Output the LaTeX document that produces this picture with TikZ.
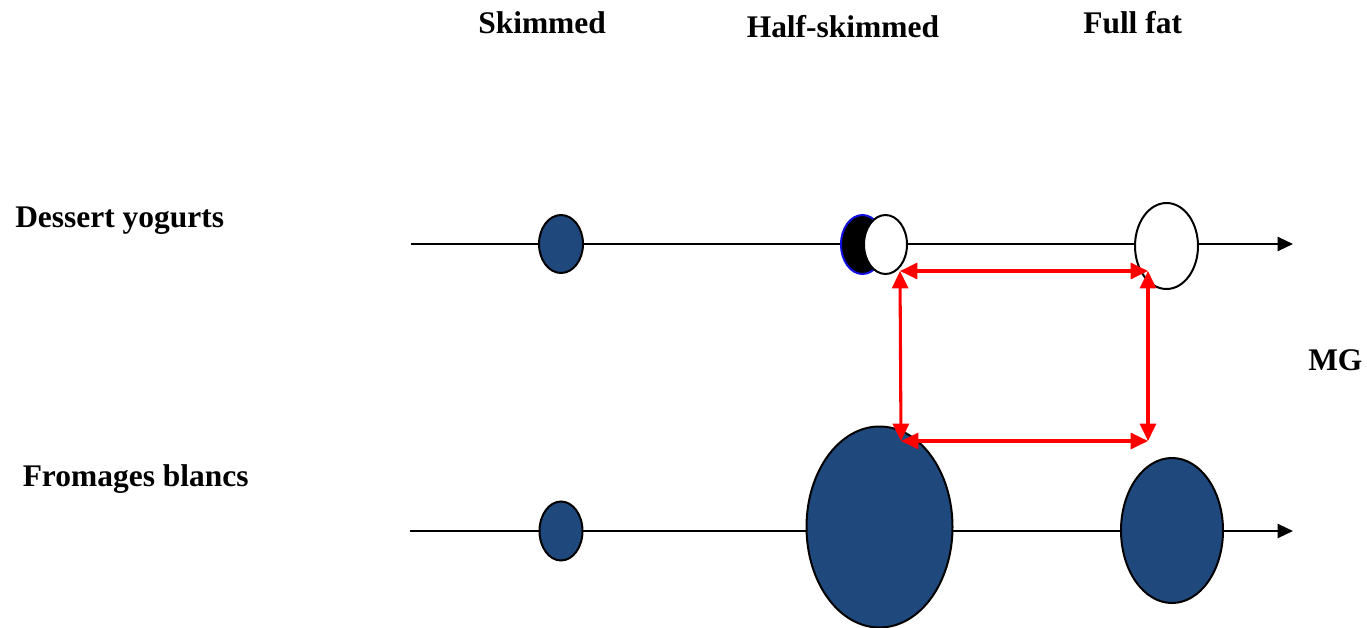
\documentclass[tikz,border=0pt]{standalone}
\usepackage{fontspec}
\setmainfont{Liberation Serif}
\usetikzlibrary{arrows.meta,shapes.geometric}
\definecolor{fatblue}{HTML}{1F497D}
\definecolor{rimblue}{HTML}{1010E0}
\tikzset{
  lbl/.style={anchor=base west,inner sep=0pt,font=\fontsize{23.6}{28}\selectfont\bfseries},
  axis/.style={line width=1.7pt,-{Triangle[length=11.5pt,width=10.5pt]}},
  blob/.style n args={2}{ellipse,inner sep=0pt,minimum width=#1*0.75pt,minimum height=#2*0.75pt,line width=1.5pt},
  dot/.style={draw=black,fill=fatblue},
  hollow/.style={draw=black,fill=white},
  gap/.style={draw=red,line width=2.3pt,{Triangle[length=13pt,width=12pt]}-{Triangle[length=13pt,width=12pt]}}
}
\begin{document}
\begin{tikzpicture}[x=0.75pt,y=-0.75pt]
\useasboundingbox (0,0) rectangle (1367,628);

% column headings
\node[lbl] (hs) at (478,33.3) {Skimmed};
\node[lbl] (hh) at (746.5,37) {Half-skimmed};
\node[lbl] (hf) at (1083,33.5) {Full fat};

% row headings and axis label
\node[lbl] (rd) at (15,227) {Dessert yogurts};
\node[lbl] (rf) at (22.5,486) {Fromages blancs};
\node[lbl] (mg) at (1308,370.5) {MG};

% axes
\coordinate (d0) at (411,244);
\coordinate (d1) at (1293,244);
\coordinate (f0) at (410,531);
\coordinate (f1) at (1293,531);
\draw[axis] (d0) -- (d1);
\draw[axis] (f0) -- (f1);

% dessert yogurts
\node[blob={44}{58},dot] (ds) at (561,244) {};
\node[blob={43}{59},draw=rimblue,fill=black] (dhb) at (862.5,244.5) {};
\node[blob={43}{59},hollow] (dh) at (885.5,244.5) {};
\node[blob={63}{86},hollow] (df) at (1166.5,246) {};

% fromages blancs
\node[blob={43}{59},dot] (fs) at (561,531) {};
\node[blob={146}{201},dot] (fh) at (879.5,527) {};
\node[blob={102}{145},dot] (ff) at (1172,530.5) {};

% comparison frame
\coordinate (tl) at (900,271);
\coordinate (tr) at (1148,271);
\coordinate (bl) at (901,441);
\coordinate (br) at (1148,441);
\draw[gap] (tl) -- (tr);
\draw[gap] (tl) -- (bl);
\draw[gap] (tr) -- (br);
\draw[gap] (bl) -- (br);
\end{tikzpicture}
\end{document}
